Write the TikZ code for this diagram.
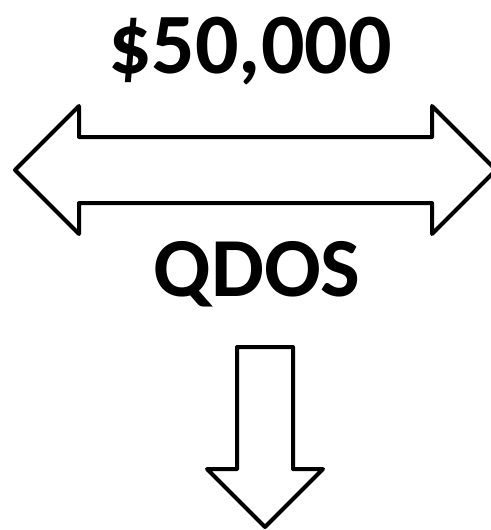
\documentclass[tikz,border=0pt]{standalone}
\usepackage{fontspec}
\setmainfont{Carlito}
\begin{document}
\begin{tikzpicture}[x=1pt,y=-1pt,
  shapeline/.style={draw=black,line width=4pt,line join=round,fill=white},
  bigtext/.style={inner sep=0pt,anchor=base,font=\bfseries\fontsize{86}{90}\selectfont}]
\useasboundingbox (0,0) rectangle (490,530);
\node[bigtext] (price) at (250,73) {\$50,000};
\node[bigtext,font=\bfseries\fontsize{84}{88}\selectfont] (qdos) at (257,296) {QDOS};
\path[shapeline] (15,170) -- (79,106) -- (79,137) -- (432,137) -- (432,106) -- (496,170)
  -- (432,234) -- (432,203) -- (79,203) -- (79,234) -- cycle;
\path[shapeline] (237,347) -- (293,347) -- (293,469) -- (323,469) -- (265,527)
  -- (207,469) -- (237,469) -- cycle;
\end{tikzpicture}
\end{document}
